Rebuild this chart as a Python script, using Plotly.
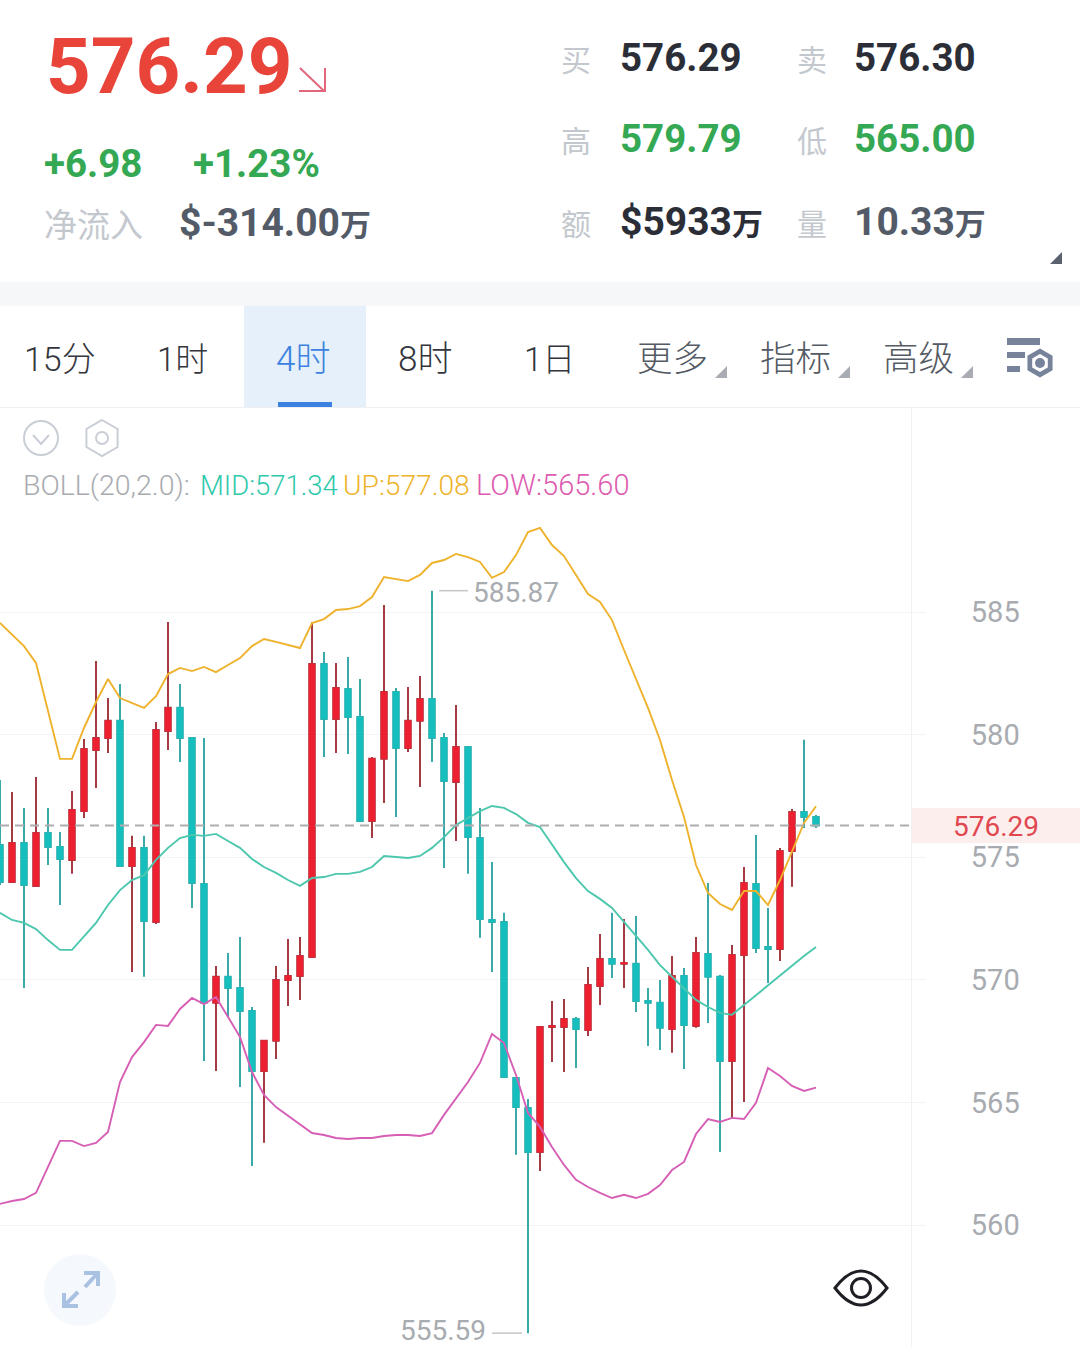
import plotly.graph_objects as go

# 4-hour candles, oldest first
opens = [575.50,573.99,575.58,573.83,575.99,575.42,574.89,576.88,579.37,579.86,580.56,574.64,575.38,572.36,580.15,581.09,579.86,573.91,569.06,570.12,569.67,568.73,566.28,567.51,569.99,570.16,570.93,582.88,580.64,581.86,580.72,576.48,579.01,581.74,579.45,580.56,581.45,579.86,578.07,579.49,575.78,572.44,572.36,566.00,564.77,562.98,568.08,568.08,568.40,567.95,569.75,570.85,570.65,570.65,569.14,569.06,567.99,570.16,568.12,571.05,570.12,566.69,571.01,573.91,571.34,571.26,575.25,576.84,576.64]
highs = [578.15,577.66,577.01,578.27,577.01,576.03,577.70,579.82,583.00,581.49,582.06,575.87,575.87,580.51,584.59,582.06,579.90,579.86,570.56,571.09,571.75,568.89,567.51,570.56,571.66,571.75,584.59,583.37,582.92,583.16,582.27,579.09,585.29,581.90,581.94,582.39,585.87,580.07,581.21,579.54,577.01,574.80,572.73,566.00,565.14,568.08,569.14,569.22,568.48,570.52,571.87,572.73,572.48,572.60,569.67,569.99,570.97,570.48,571.75,573.95,570.20,571.42,574.60,575.91,572.93,575.38,576.97,579.79,576.72]
lows = [573.87,573.95,569.67,573.83,574.68,573.05,574.32,576.60,577.82,579.25,574.64,570.32,570.12,572.28,579.37,578.88,572.93,566.69,566.28,568.48,565.63,562.41,563.35,566.77,568.93,569.18,570.93,579.09,579.25,579.21,576.48,575.78,577.21,576.64,579.29,577.86,578.88,574.56,575.66,574.32,571.71,570.32,566.04,562.86,555.59,562.20,566.65,566.24,566.40,567.71,568.97,570.07,569.67,568.69,567.30,567.14,567.02,566.36,568.04,568.24,562.98,564.37,565.02,571.09,569.87,570.77,573.79,576.19,576.19]
closes = [573.99,575.58,573.87,575.99,575.42,574.93,576.93,579.41,579.86,580.56,574.64,575.38,572.40,580.19,581.09,579.86,573.95,569.06,570.12,569.67,568.73,566.28,567.51,569.99,570.16,570.97,582.88,580.64,581.90,580.72,576.48,579.01,581.74,579.45,580.56,581.45,579.86,578.11,579.49,575.82,572.48,572.36,566.04,564.81,562.98,568.08,568.12,568.40,567.99,569.79,570.85,570.65,570.69,569.14,569.06,568.04,570.16,568.16,571.09,570.12,566.69,571.01,573.95,571.30,571.26,575.25,576.84,576.64,576.29]

# Bollinger bands (20, 2.0)
boll_up = [584.55,584.06,583.61,582.92,580.92,579.01,579.01,580.27,581.33,582.27,581.49,581.29,581.09,581.57,582.47,582.72,582.59,582.76,582.55,582.84,583.12,583.61,583.90,583.78,583.65,583.53,584.55,584.71,585.08,585.12,585.24,585.61,586.43,586.35,586.26,586.51,587.00,587.12,587.37,587.24,587.04,586.39,586.63,587.32,588.26,588.43,587.73,587.28,586.51,585.73,585.41,584.67,583.45,582.23,581.09,579.78,578.15,576.64,574.68,573.54,573.09,572.85,573.62,573.62,573.05,574.07,575.21,576.40,577.08]
boll_mid = [572.73,572.44,572.32,572.07,571.62,571.22,571.22,571.75,572.32,573.05,573.66,574.07,574.27,574.89,575.38,575.78,575.91,575.87,575.95,575.66,575.38,574.93,574.60,574.36,574.07,573.83,574.15,574.19,574.32,574.32,574.40,574.60,575.05,575.01,574.97,575.05,575.38,575.82,576.31,576.60,576.88,577.09,577.01,576.76,576.40,576.23,575.50,574.80,574.15,573.62,573.30,572.93,572.36,571.79,571.22,570.60,570.12,569.67,569.18,568.89,568.65,568.57,568.97,569.38,569.79,570.20,570.60,570.97,571.34]
boll_low = [560.86,560.98,561.06,561.31,562.37,563.43,563.43,563.22,563.35,563.79,565.83,566.85,567.46,568.16,568.12,568.81,569.26,569.01,569.30,568.48,567.67,566.24,565.30,564.81,564.45,564.12,563.75,563.67,563.55,563.51,563.55,563.55,563.63,563.67,563.67,563.63,563.75,564.49,565.18,565.83,566.61,567.79,567.42,566.12,564.57,564.00,563.18,562.45,561.84,561.55,561.31,561.10,561.23,561.10,561.27,561.63,562.24,562.57,563.71,564.32,564.20,564.37,564.32,564.98,566.40,566.08,565.67,565.47,565.60]

price_ticks = [560, 565, 570, 575, 580, 585]
last_price = 576.29
peak_price = 585.87
trough_price = 555.59

tabs = ["15分", "1时", "4时", "8时", "1日", "更多", "指标", "高级"]

W, H = 1080, 1347
CHART_TOP = 408
CHART_RIGHT = 912
PX_PER_POINT = 24.52
CANDLE_STEP = 12

RED, TEAL = "#ee2030", "#15bfbd"
RED_WICK, TEAL_WICK = "#a33b44", "#3aa9a9"
GREY_LABEL = "#a8abb0"
FONT = "Roboto, 'Noto Sans CJK SC', sans-serif"
CJK = "'Noto Sans CJK SC', sans-serif"


def px(x):
    return x / W


def py(y):
    return 1 - y / H


annotations = []
shapes = []


def text(x, y, s, size, color, anchor="left", weight=400, family=FONT):
    # Left-aligned annotations sit about 2px inside their anchor point
    x_pos = x - 2 if anchor == "left" else x
    annotations.append(dict(
        x=px(x_pos), y=py(y), xref="paper", yref="paper", text=s, showarrow=False,
        xanchor=anchor, yanchor="middle", borderpad=0,
        font=dict(size=size, color=color, family=family, weight=weight),
    ))


def wan(s, size=31):
    """Amount followed by a smaller unit character."""
    return f"{s}<span style='font-size:{size}px'>万</span>"


def rect(x0, y0, x1, y1, fill, layer="below"):
    shapes.append(dict(type="rect", xref="paper", yref="paper", layer=layer,
                       x0=px(x0), x1=px(x1), y0=py(y0), y1=py(y1),
                       fillcolor=fill, line_width=0))


def stroke(x0, y0, x1, y1, color, width=2):
    shapes.append(dict(type="line", xref="paper", yref="paper", layer="above",
                       x0=px(x0), x1=px(x1), y0=py(y0), y1=py(y1),
                       line=dict(color=color, width=width)))


def path(points, fill=None, color=None, width=0, close=True):
    d = "M " + " L ".join(f"{px(a):.5f},{py(b):.5f}" for a, b in points)
    if close:
        d += " Z"
    shapes.append(dict(type="path", xref="paper", yref="paper", layer="above", path=d,
                       fillcolor=fill or "rgba(0,0,0,0)",
                       line=dict(color=color or "rgba(0,0,0,0)", width=width)))


def circle(cx, cy, r, fill=None, color=None, width=0):
    shapes.append(dict(type="circle", xref="paper", yref="paper", layer="above",
                       x0=px(cx - r), x1=px(cx + r), y0=py(cy - r), y1=py(cy + r),
                       fillcolor=fill or "rgba(0,0,0,0)",
                       line=dict(color=color or "rgba(0,0,0,0)", width=width)))


def hexagon(cx, cy, r):
    k = 0.866
    return [(cx, cy - r), (cx + k * r, cy - r / 2), (cx + k * r, cy + r / 2),
            (cx, cy + r), (cx - k * r, cy + r / 2), (cx - k * r, cy - r / 2)]


def lens(x0, x1, cy, bulge):
    """Closed eye outline built from two quadratic curves."""
    mid = (x0 + x1) / 2
    return (f"M {px(x0):.5f},{py(cy):.5f} "
            f"Q {px(mid):.5f},{py(cy - bulge):.5f} {px(x1):.5f},{py(cy):.5f} "
            f"Q {px(mid):.5f},{py(cy + bulge):.5f} {px(x0):.5f},{py(cy):.5f} Z")


# Quote header
text(47, 66, "576.29", 78, "#e8443a", weight=700)
stroke(300, 68, 324, 91, "#e2667c", 2)
stroke(325, 68, 325, 91, "#e2667c", 2)
stroke(299, 91, 326, 91, "#e2667c", 2)
text(45, 163.5, "+6.98", 38.5, "#34a853", weight=700)
text(194, 163.5, "+1.23%", 38.5, "#34a853", weight=700)
text(45, 223, "净流入", 33, "#c3c8ce", family=CJK)
text(180, 223, wan("$-314.00"), 39, "#545b68", weight=700)

for x, y, label in [(562, 58, "买"), (798, 58, "卖"), (562, 139, "高"),
                    (798, 139, "低"), (562, 222, "额"), (798, 222, "量")]:
    text(x, y, label, 30, "#c3c8ce", family=CJK)
text(621, 57, "576.29", 38.5, "#2b2e37", weight=700)
text(855, 57, "576.30", 38.5, "#2b2e37", weight=700)
text(621, 139, "579.79", 38.5, "#34a853", weight=700)
text(855, 139, "565.00", 38.5, "#34a853", weight=700)
text(621, 222, wan("$5933"), 39, "#2b2e37", weight=700)
text(855, 222, wan("10.33"), 39, "#545b68", weight=700)
path([(1062, 252), (1062, 264), (1050, 264)], fill="#5a6270")

# Period tabs
rect(0, 282, W, 306, "#f6f7f9")
rect(244, 306, 366, CHART_TOP, "#e5f0fb")
rect(278, 402, 332, CHART_TOP, "#3b82e0")
rect(0, CHART_TOP - 1, W, CHART_TOP, "#eef0f3")
rect(CHART_RIGHT - 1, CHART_TOP, CHART_RIGHT, H, "#eef0f3")
tab_x = [25, 158, 277, 399, 525, 638, 761, 884]
tab_size = [34, 33, 35, 35, 33, 35.5, 35.5, 35.5]
tab_color = ["#33363d", "#33363d", "#3b82e0", "#33363d", "#33363d", "#555b64", "#555b64", "#555b64"]
for x, label, size, color in zip(tab_x, tabs, tab_size, tab_color):
    text(x, 359, label, size, color, weight=300)
for x in [727, 850, 973]:
    path([(x, 366), (x, 378), (x - 12, 378)], fill="#a9adb3")

# Settings glyph in the tab row
rect(1007, 338, 1040, 345, "#76839a", layer="above")
rect(1007, 352, 1025, 358, "#76839a", layer="above")
rect(1007, 366, 1020, 372, "#76839a", layer="above")
path(hexagon(1040, 363, 16), fill="#ffffff")
path(hexagon(1040, 363, 14.5), fill="#76839a")
path(hexagon(1040, 363, 9), fill="#ffffff")
circle(1040, 363, 5, fill="#76839a")

# Chart toolbar and indicator legend
circle(41, 438, 17, color="#c9ced6", width=2)
path([(33, 435), (41, 444), (49, 435)], color="#c9ced6", width=2, close=False)
path(hexagon(102, 438, 18), color="#c9ced6", width=2)
circle(102, 438, 6, color="#c9ced6", width=2)
text(24, 485, "BOLL(20,2.0):", 28.5, GREY_LABEL, weight=300)
text(201, 485, "MID:571.34", 27.5, "#2fc9ab", weight=300)
text(344, 485, "UP:577.08", 28.2, "#eeb32a", weight=300)
text(477, 485, "LOW:565.60", 29, "#dd5bb0", weight=300)

# Last price tag on the axis
rect(CHART_RIGHT, 808, W, 843, "#fdeeee")
text(996, 826, "576.29", 28, "#e0474f", anchor="center")
shapes.append(dict(type="line", xref="x", yref="y", layer="above",
                   x0=0, x1=(CHART_RIGHT - 2) / CANDLE_STEP, y0=last_price, y1=last_price,
                   line=dict(color="#adadb0", width=2, dash="9px,6px")))

# Extreme price call-outs
peak_i = highs.index(peak_price)
trough_i = lows.index(trough_price)
shapes.append(dict(type="line", xref="x", yref="y", layer="above",
                   x0=peak_i + 0.6, x1=peak_i + 3, y0=peak_price, y1=peak_price,
                   line=dict(color="#c4c6ca", width=1.5)))
shapes.append(dict(type="line", xref="x", yref="y", layer="above",
                   x0=trough_i - 3, x1=trough_i - 0.5, y0=trough_price, y1=trough_price,
                   line=dict(color="#c4c6ca", width=1.5)))
annotations.append(dict(x=peak_i + 3.5, y=peak_price, xref="x", yref="y", showarrow=False,
                        text=f"{peak_price:.2f}", xanchor="left", yanchor="middle",
                        xshift=-3, yshift=-2,
                        font=dict(size=28, color=GREY_LABEL, family=FONT)))
annotations.append(dict(x=trough_i - 3.5, y=trough_price, xref="x", yref="y", showarrow=False,
                        text=f"{trough_price:.2f}", xanchor="right", yanchor="middle",
                        xshift=2, yshift=3,
                        font=dict(size=28, color=GREY_LABEL, family=FONT)))

# Floating buttons on the chart
circle(80, 1290, 36, fill="#f5f8fc")
ARROW = "#a9c2e2"
for pts in ([(66, 1304), (78, 1292)], [(64, 1293), (64, 1306), (78, 1306)],
            [(96, 1275), (85, 1287)], [(84, 1273), (98, 1273), (98, 1286)]):
    path(pts, color=ARROW, width=4, close=False)
shapes.append(dict(type="path", xref="paper", yref="paper", layer="above",
                   path=lens(835, 887, 1288, 34), fillcolor="rgba(0,0,0,0)",
                   line=dict(color="#1d1f24", width=3)))
circle(861, 1288, 9.5, color="#1d1f24", width=3)

xs = list(range(len(opens)))
body_high = [max(o, c) for o, c in zip(opens, closes)]
body_low = [min(o, c) for o, c in zip(opens, closes)]

fig = go.Figure()
# Wicks first, with the body outline hidden by a second pass over the top
fig.add_trace(go.Candlestick(
    x=xs, open=opens, high=highs, low=lows, close=closes, whiskerwidth=0,
    increasing=dict(line=dict(color=RED_WICK, width=2), fillcolor=RED),
    decreasing=dict(line=dict(color=TEAL_WICK, width=2), fillcolor=TEAL),
))
fig.add_trace(go.Candlestick(
    x=xs, open=opens, high=body_high, low=body_low, close=closes, whiskerwidth=0,
    increasing=dict(line=dict(color=RED, width=1), fillcolor=RED),
    decreasing=dict(line=dict(color=TEAL, width=1), fillcolor=TEAL),
))
for series, color in [(boll_up, "#eeb22c"), (boll_mid, "#4cc7ae"), (boll_low, "#d65fb5")]:
    fig.add_trace(go.Scatter(x=xs, y=series, mode="lines",
                             line=dict(color=color, width=1.9)))

bottom_price = 585 - (H - 612) / PX_PER_POINT
top_price = 585 + (612 - CHART_TOP) / PX_PER_POINT

fig.update_layout(
    width=W, height=H, margin=dict(l=0, r=0, t=0, b=0),
    paper_bgcolor="#ffffff", plot_bgcolor="#ffffff",
    showlegend=False, hovermode=False, dragmode=False, boxgap=0.34,
    annotations=annotations, shapes=shapes,
    xaxis=dict(domain=[0, CHART_RIGHT / W], range=[0, CHART_RIGHT / CANDLE_STEP],
               visible=False, rangeslider=dict(visible=False), fixedrange=True),
    yaxis=dict(domain=[0, (H - CHART_TOP) / H], range=[bottom_price, top_price],
               side="right", tickmode="array", tickvals=price_ticks, zeroline=False,
               showgrid=True, gridcolor="#f1f3f6", gridwidth=1, showline=False,
               ticks="outside", ticklen=13, tickcolor="#f1f3f6", tickwidth=1,
               ticklabelstandoff=39, fixedrange=True,
               tickfont=dict(size=29, color=GREY_LABEL, family=FONT)),
)

fig.write_html("out.html", config=dict(displayModeBar=False))
